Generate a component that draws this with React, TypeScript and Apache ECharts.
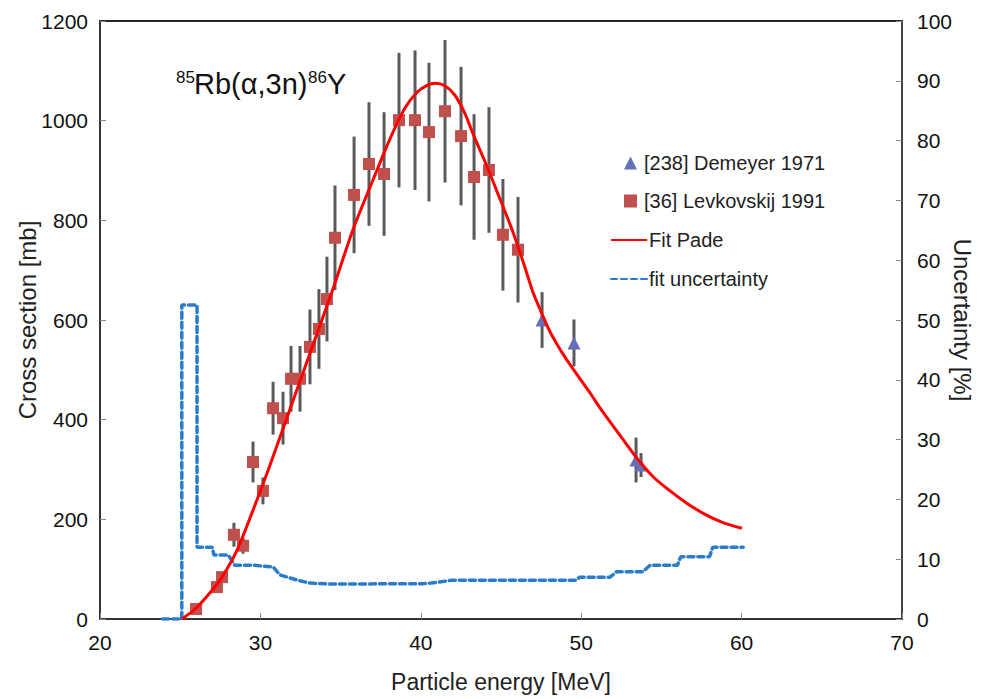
import React, { useEffect, useRef } from "react";
import * as echarts from "echarts";

// Levkovskij 1991: [energy MeV, cross section mb, error mb]
const levkovskij: [number, number, number][] = [
  [25.99, 20, 0], [27.29, 64, 0], [27.61, 84, 0], [28.35, 169, 24], [28.92, 147, 16],
  [29.54, 315, 41], [30.16, 257, 27], [30.79, 423, 53], [31.41, 403, 53], [31.91, 482, 66],
  [32.47, 482, 66], [33.09, 546, 75], [33.65, 582, 80], [34.15, 642, 85], [34.65, 765, 105],
  [35.84, 851, 117], [36.77, 913, 124], [37.71, 893, 124], [38.64, 1001, 135], [39.64, 1001, 140],
  [40.51, 977, 139], [41.51, 1019, 143], [42.51, 969, 139], [43.32, 887, 126], [44.25, 901, 126],
  [45.12, 771, 112], [46.06, 741, 106],
];

// Demeyer 1971: [energy MeV, cross section mb, error mb]
const demeyer: [number, number, number][] = [
  [47.56, 600, 56], [49.55, 554, 47], [53.42, 319, 45], [53.73, 309, 24],
];

// Pade fit curve: [energy MeV, cross section mb]
const fitPade: [number, number][] = [
  [25.11, 0], [26.0, 22], [27.0, 58], [27.61, 84], [28.5, 135], [29.5, 215], [30.5, 300],
  [31.5, 390], [32.5, 480], [33.5, 570], [34.5, 660], [35.77, 781], [37.02, 881],
  [38.1, 965], [39.0, 1025], [39.8, 1058], [40.4, 1071], [40.9, 1075], [41.5, 1070],
  [42.1, 1052], [42.7, 1018], [43.3, 970], [44.0, 918], [44.75, 858], [45.69, 781],
  [46.5, 705], [47.0, 655], [47.56, 612], [48.0, 580], [48.5, 551], [49.0, 525],
  [49.49, 502], [50.5, 456], [51.36, 415], [52.5, 365], [53.54, 320], [54.5, 285],
  [55.54, 257], [56.6, 232], [57.72, 210], [58.8, 194], [60.02, 182],
];

// Fit uncertainty: [energy MeV, uncertainty %]
const fitUncertainty: [number, number][] = [
  [23.9, 0], [25.1, 0], [25.1, 52.5], [26.05, 52.5], [26.05, 12.0], [27.0, 12.0], [27.1, 10.7],
  [28.0, 10.7], [28.4, 9.0], [29.5, 9.0], [30.8, 8.7], [31.2, 7.4], [32.3, 6.5], [33.1, 6.0],
  [34.3, 5.85], [40.1, 5.9], [40.6, 6.0], [42.0, 6.5], [49.7, 6.5], [49.9, 7.0], [51.8, 7.0],
  [52.2, 7.9], [53.85, 7.9], [54.3, 9.0], [56.0, 9.0], [56.2, 10.4], [58.0, 10.4], [58.2, 12.0],
  [60.1, 12.0],
];

const xRange = { min: 20, max: 70, interval: 10 };
const yLeftRange = { min: 0, max: 1200, interval: 200 };
const yRightRange = { min: 0, max: 100, interval: 10 };

const names = {
  demeyer: "[238] Demeyer 1971",
  lev: "[36] Levkovskij 1991",
  fit: "Fit Pade",
  unc: "fit uncertainty",
};

const FONT = "'Liberation Sans', Arial, Helvetica, sans-serif";

export default function App() {
  const ref = useRef<HTMLDivElement>(null);
  useEffect(() => {
    if (!ref.current) return;
    const chart = echarts.init(ref.current, undefined, { renderer: "svg" });

    const errData = (arr: [number, number, number][]) =>
      arr.filter((d) => d[2] > 0).map((d) => [d[0], d[1] - d[2], d[1] + d[2]]);

    const errRender = (params: any, api: any) => {
      const x = api.value(0);
      const lo = api.coord([x, api.value(1)]);
      const hi = api.coord([x, api.value(2)]);
      return {
        type: "line",
        shape: { x1: lo[0], y1: lo[1], x2: hi[0], y2: hi[1] },
        style: { stroke: "#5a5a5a", lineWidth: 3 },
      };
    };

    const textStyle = { fontSize: 20, color: "#222", fontFamily: FONT };
    const symLegend = {
      orient: "vertical",
      left: 619,
      itemWidth: 13,
      itemHeight: 13,
      textStyle: { ...textStyle, padding: [0, 0, 0, 2] },
      selectedMode: false,
    };
    const lineLegend = {
      orient: "vertical",
      left: 605,
      itemWidth: 36,
      itemHeight: 12,
      itemStyle: { opacity: 0 },
      textStyle: { ...textStyle, padding: [0, 0, 0, -3] },
      selectedMode: false,
    };

    const nameStyle = { fontSize: 24, color: "#222", fontFamily: FONT };
    const tick = { show: true, inside: true, length: 6, lineStyle: { color: "#888", width: 1 } };

    chart.setOption({
      animation: false,
      textStyle: { fontFamily: FONT },
      grid: {
        left: 100,
        right: 87,
        top: 21,
        bottom: 80,
        outerBoundsMode: "none",
        containLabel: false,
        show: true,
        borderColor: "#262626",
        borderWidth: 2,
        backgroundColor: "transparent",
      },
      legend: [
        { ...symLegend, top: 148, data: [names.demeyer] },
        { ...symLegend, top: 186, data: [names.lev] },
        { ...lineLegend, top: 225, data: [names.fit] },
        { ...lineLegend, top: 264, data: [names.unc] },
      ],
      xAxis: {
        type: "value",
        ...xRange,
        name: "Particle energy [MeV]",
        nameLocation: "middle",
        nameGap: 51,
        nameMoveOverlap: false,
        nameTextStyle: { ...nameStyle, fontSize: 23 },
        axisLine: { show: true, lineStyle: { color: "#333", width: 2 } },
        axisTick: tick,
        axisLabel: { fontSize: 21, color: "#111", margin: 13, fontFamily: FONT },
        splitLine: { show: false },
      },
      yAxis: [
        {
          type: "value",
          ...yLeftRange,
          name: "Cross section [mb]",
          nameLocation: "middle",
          nameGap: 61,
          nameMoveOverlap: false,
          nameTextStyle: nameStyle,
          axisLine: { show: true, lineStyle: { color: "#333", width: 2 } },
          axisTick: tick,
          axisLabel: {
            fontSize: 21,
            color: "#111",
            margin: 12,
            fontFamily: FONT,
            formatter: (v: number) => String(v),
          },
          splitLine: { show: false },
        },
        {
          type: "value",
          ...yRightRange,
          position: "right",
          name: "Uncertainty [%]",
          nameLocation: "middle",
          nameGap: 48,
          nameRotate: -90,
          nameMoveOverlap: false,
          nameTextStyle: nameStyle,
          axisLine: { show: true, lineStyle: { color: "#444", width: 2 } },
          axisTick: tick,
          axisLabel: {
            fontSize: 21,
            color: "#111",
            margin: 15,
            fontFamily: FONT,
            formatter: (v: number) => String(v),
          },
          splitLine: { show: false },
        },
      ],
      series: [
        {
          name: names.unc,
          type: "line",
          yAxisIndex: 1,
          data: fitUncertainty,
          symbol: "none",
          z: 2,
          lineStyle: { color: "#2a7bcc", width: 3.5, type: [6, 4], cap: "round" },
          itemStyle: { color: "#2a7bcc" },
        },
        {
          name: "errLev",
          type: "custom",
          data: errData(levkovskij),
          renderItem: errRender,
          z: 3,
          silent: true,
        },
        {
          name: "errDem",
          type: "custom",
          data: errData(demeyer),
          renderItem: errRender,
          z: 3,
          silent: true,
        },
        {
          name: names.lev,
          type: "scatter",
          data: levkovskij.map((d) => [d[0], d[1]]),
          symbol: "rect",
          symbolSize: 12,
          itemStyle: { color: "#c0504d", opacity: 1 },
          z: 4,
        },
        {
          name: names.demeyer,
          type: "scatter",
          data: demeyer.map((d) => [d[0], d[1]]),
          symbol: "triangle",
          symbolSize: 13,
          itemStyle: { color: "#6470b8", opacity: 1 },
          z: 4,
        },
        {
          name: names.fit,
          type: "line",
          data: fitPade,
          smooth: 0.3,
          symbol: "none",
          z: 5,
          lineStyle: { color: "#ff0000", width: 3 },
          itemStyle: { color: "#ff0000" },
        },
      ],
      graphic: [
        { type: "text", x: 176, y: 77, style: { text: "85", fontSize: 17, fontFamily: FONT, fill: "#111", align: "left", verticalAlign: "middle" } },
        { type: "text", x: 194, y: 84, style: { text: "Rb(α,3n)", fontSize: 29, fontFamily: FONT, fill: "#111", align: "left", verticalAlign: "middle" } },
        { type: "text", x: 308, y: 77, style: { text: "86", fontSize: 17, fontFamily: FONT, fill: "#111", align: "left", verticalAlign: "middle" } },
        { type: "text", x: 327, y: 84, style: { text: "Y", fontSize: 29, fontFamily: FONT, fill: "#111", align: "left", verticalAlign: "middle" } },
      ],
    });

    return () => chart.dispose();
  }, []);

  return (
    <div
      ref={ref}
      style={{ position: "fixed", left: 0, top: 0, width: 989, height: 699, background: "#fff" }}
    />
  );
}
